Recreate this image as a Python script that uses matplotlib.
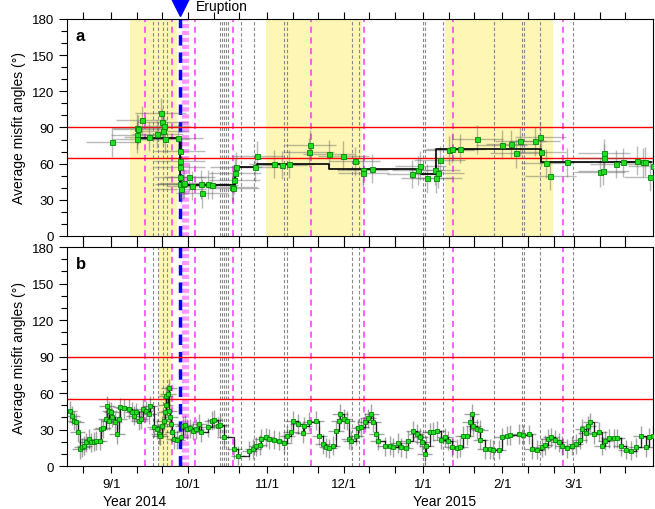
import numpy as np
import matplotlib
matplotlib.use("Agg")
import matplotlib.pyplot as plt
import matplotlib.dates as mdates

plt.rcParams['font.family'] = ['Liberation Sans', 'DejaVu Sans']

# all days are counted from 2014-09-01
a_day = [0.3, 10.0, 10.2, 10.2, 10.6, 11.9, 14.9, 18.0, 19.4, 20.0, 20.4, 20.7, 20.9,
         26.0, 26.8, 26.8, 26.8, 26.9, 27.0, 27.2, 27.9, 28.5, 30.5, 31.4, 35.3, 35.5,
         38.0, 39.4, 47.2, 47.8, 48.2, 48.4, 48.8, 56.3, 57.0, 63.7, 66.6, 69.4, 77.2,
         77.9, 85.1, 90.8, 95.3, 98.4, 98.5, 102.0, 117.7, 120.0, 120.8, 123.5, 126.5,
         127.0, 127.9, 128.5, 132.0, 133.3, 136.4, 143.2, 152.7, 156.4, 158.2, 160.0,
         165.7, 167.8, 168.0, 170.1, 171.7, 178.2, 191.0, 192.4, 192.7, 192.7, 197.3,
         200.0, 205.7, 208.0, 208.9, 210.6, 212.0]
a_val = [77.7, 83.8, 89.6, 80.5, 88.7, 96.0, 82.4, 84.6, 102.3, 94.3, 87.4, 91.5, 80.5,
         81.3, 70.3, 62.5, 57.0, 48.7, 43.0, 39.0, 43.0, 43.6, 48.7, 41.7, 43.0, 35.4,
         43.0, 42.3, 40.9, 39.6, 46.5, 52.0, 57.5, 57.0, 66.4, 59.7, 58.9, 59.7, 69.4,
         75.7, 68.0, 66.6, 62.0, 54.7, 52.5, 55.6, 51.4, 54.7, 58.3, 47.9, 54.7,
         47.9, 52.0, 63.0, 71.3, 72.2, 72.2, 80.2, 75.7, 76.3, 68.6, 78.5,
         78.5, 82.4, 70.0, 60.3, 50.0, 61.1, 52.8, 54.2, 68.8, 64.7, 59.7,
         61.1, 62.5, 61.1, 61.6, 49.2, 58.3]

a_step_day = [10, 26.7, 48.5, 57, 85, 121, 127, 168, 211]
a_step_val = [81, 42, 57, 60, 55.6, 51.4, 72, 61, 61]

b_day = [-16.2, -15.3, -14.7, -13.7, -13.1, -12.3, -11.4, -10.5, -9.7, -8.8, -7.9, -6.8,
         -5.8, -4.5, -4.2, -3.2, -2.2, -1.6, -0.9, -0.8, 0.0, 0.4, 1.3, 2.3, 3.0, 3.6,
         5.0, 6.9, 8.2, 8.9, 9.5, 10.8, 11.5, 12.6, 13.5, 14.8, 15.2, 16.8, 17.8, 18.7,
         19.1, 20.0, 20.7, 20.9, 21.3, 21.3, 22.2, 22.6, 22.6, 23.0, 23.5, 23.9, 24.6,
         25.9, 27.2, 27.9, 28.8, 29.8, 30.9, 31.8, 33.1, 34.4, 35.3, 37.7, 39.3, 40.3,
         41.6, 42.7, 44.2, 48.2, 49.7, 54.0, 55.4, 56.7, 58.0, 58.7, 60.5, 61.8, 63.7,
         65.7, 67.7, 68.9, 70.3, 70.9, 72.9, 74.9, 75.5, 77.5, 80.1, 81.4, 82.7, 84.1,
         85.3, 86.6, 87.9, 88.9, 89.5, 91.0, 92.3, 92.8, 93.8, 95.8, 96.7, 97.8, 99.3,
         100.4, 101.7, 102.4, 103.7, 104.3, 106.9, 108.9, 110.2, 112.2, 113.5, 115.1,
         116.1, 118.1, 119.4, 120.7, 121.7, 122.6, 123.3, 124.6, 125.9, 127.6, 128.9,
         130.5, 131.8, 133.1, 135.1, 136.5, 137.4, 139.0, 140.3, 141.0, 141.6, 142.9,
         144.2, 144.4, 146.2, 148.2, 149.5, 151.5, 152.7, 154.7, 156.0, 159.3, 161.2,
         163.2, 164.5, 166.5, 168.5, 169.8, 170.7, 172.0, 173.7, 175.0, 176.4, 178.3,
         180.3, 181.6, 183.2, 184.2, 185.5, 186.5, 187.4, 189.0, 190.7, 192.0, 193.3,
         194.6, 196.6, 197.9, 199.2, 201.2, 203.2, 205.2, 207.1, 209.1, 210.4, 211.7]
b_val = [45.5, 41.4, 37.3, 35.9, 27.7, 14.0, 15.4, 16.7, 19.4, 22.2, 19.4, 20.0,
         20.8, 20.8, 30.4, 31.0, 38.6, 49.6, 37.3, 45.5, 44.6, 40.0, 35.9, 26.3, 38.6, 48.2,
         47.4, 46.9, 44.6, 41.4, 44.0, 37.3, 38.6, 46.9, 45.5, 42.7, 49.6, 31.8, 30.4, 26.3,
         24.9, 33.2, 37.3, 44.0, 57.8, 50.2, 59.2, 63.9, 45.5, 40.0, 34.6, 27.7, 22.2,
         21.6, 23.5, 33.2, 33.8, 30.4, 31.0, 29.0, 30.4, 34.6, 27.7, 31.8, 37.3, 38.2,
         32.6, 33.8, 23.5, 14.0, 8.5, 12.6, 14.0, 16.2, 17.3, 22.2, 23.5, 22.2, 21.6,
         20.8, 18.9, 24.9, 27.7, 37.3, 34.6, 27.2, 32.6, 36.4, 37.3, 24.9, 18.1, 15.3,
         14.5, 16.7, 29.0, 37.3, 42.7, 38.6, 37.3, 22.2, 20.8, 24.9, 31.0, 31.8, 35.9,
         39.1, 42.7, 35.9, 26.3, 20.8, 16.2, 16.7, 15.3, 18.9, 15.3, 14.5,
         20.8, 29.0, 26.3, 23.5, 19.4, 9.9, 16.7, 27.7, 28.3, 29.0, 21.6,
         23.5, 20.8, 15.3, 14.5, 15.3, 24.9, 24.9, 35.9, 42.7, 33.2, 30.4,
         29.9, 21.6, 14.0, 14.0, 13.4, 13.4, 23.5, 24.9, 25.4, 26.3, 25.4,
         25.9, 14.0, 13.4, 15.3, 17.3, 22.2, 23.5, 21.6, 19.4, 16.7, 14.5,
         16.7, 18.1, 21.6, 30.4, 27.2, 33.2, 35.9, 26.3, 28.3, 16.7, 20.8,
         22.7, 22.7, 22.7, 16.2, 13.4, 12.6, 15.3, 24.9, 15.3, 23.5, 24.9]

# event lines (days from 2014-09-01)
gray_lines = [16.5, 18.1, 20.4, 22.0, 42.4, 43.2, 44.0, 44.8, 45.5, 50.6, 55.8, 67.5,
              68.7, 94.2, 97.0, 122.1, 122.9, 129.6, 149.6, 160.6, 161.4, 167.7, 180.6]
pink_lines = [13.3, 23.6, 32.6, 47.5, 78.1, 98.9, 133.5, 176.7]
pink_band = [27.6, 28.0, 28.4, 28.8, 29.2, 29.6, 30.0]
eruption_day = 26.7
yellow_a = [(7.5, 25.9), (60.5, 98.2), (130.7, 172.7)]
yellow_b = [(18.5, 23.2)]
red_a = [90, 65]
red_b = [90, 55]

t0 = mdates.date2num(np.datetime64('2014-09-01'))
def d(x):
    return t0 + np.asarray(x, dtype=float)

fig = plt.figure(figsize=(6.55, 5.1), dpi=100)
ax_a = fig.add_axes([0.1023, 0.5353, 0.8947, 0.4255])
ax_b = fig.add_axes([0.1023, 0.0843, 0.8947, 0.4294])

panels = [(ax_a, 'a', a_day, a_val, yellow_a, red_a, 10, 12, 3.6, '#666666'),
          (ax_b, 'b', b_day, b_val, yellow_b, red_b, 3, 8, 3.2, '#333333')]

for ax, lab, xs, ys, spans, reds, xe, ye, ms, ec in panels:
    for s0, s1 in spans:
        ax.axvspan(d(s0), d(s1), color='#fdf6b4', lw=0, zorder=0)
    for g in gray_lines:
        ax.axvline(d(g), color='#888888', lw=0.8, ls=(0, (3, 2)), zorder=1)
    for p in pink_band:
        ax.axvline(d(p), color='#ff66ff', lw=1.0, ls=(0, (3, 2)), alpha=0.6, zorder=1)
    for p in pink_lines:
        ax.axvline(d(p), color='#ff33ff', lw=1.1, ls=(0, (4, 3)), zorder=1)
    ax.axvline(d(eruption_day), color='#0000ff', lw=2.5, ls=(0, (3, 2)), zorder=2)
    for r in reds:
        ax.axhline(r, color='red', lw=1.0, zorder=2)
    ax.errorbar(d(xs), ys, xerr=xe, yerr=ye, fmt='none', ecolor=ec,
                elinewidth=1.0, alpha=0.45, zorder=3)
    ax.plot(d(xs), ys, 's', ms=ms, mfc='#22dd22', mec='#008800', mew=0.6, zorder=5)
    ax.set_ylim(0, 180)
    ax.set_xlim(d(-17.3), d(211.9))
    ax.set_yticks(np.arange(0, 181, 30))
    ax.set_yticks(np.arange(0, 181, 10), minor=True)
    ax.set_ylabel('Average misfit angles (°)', fontsize=10)
    ax.xaxis.set_major_locator(mdates.MonthLocator())
    ax.xaxis.set_minor_locator(mdates.DayLocator(bymonthday=[11, 21]))
    ax.xaxis.set_major_formatter(mdates.DateFormatter('%-m/%-d'))
    ax.tick_params(axis='both', which='both', direction='out', labelsize=9.5, width=0.8)
    ax.tick_params(axis='x', which='both', top=True, length=5)
    ax.tick_params(axis='y', which='major', length=6)
    ax.tick_params(axis='y', which='minor', length=4)
    ax.text(0.015, 0.96, lab, transform=ax.transAxes, fontsize=12, fontweight='bold',
            va='top', ha='left')

ax_a.step(d(a_step_day), a_step_val, where='post', color='black', lw=1.2, zorder=4)
ax_b.step(d(b_day), b_val, where='post', color='black', lw=0.9, alpha=0.8, zorder=4)
ax_a.tick_params(axis='x', labelbottom=False)

ax_a.plot([d(eruption_day)], [191], 'v', ms=15, color='#0000ff', clip_on=False, zorder=6)
ax_a.text(d(eruption_day + 6.5), 191, 'Eruption', fontsize=10, va='center', ha='left')

fig.text(135 / 655, 1 - 502 / 510, 'Year 2014', fontsize=10, ha='center', va='center')
fig.text(445 / 655, 1 - 502 / 510, 'Year 2015', fontsize=10, ha='center', va='center')

fig.savefig('out.png', dpi=100)
